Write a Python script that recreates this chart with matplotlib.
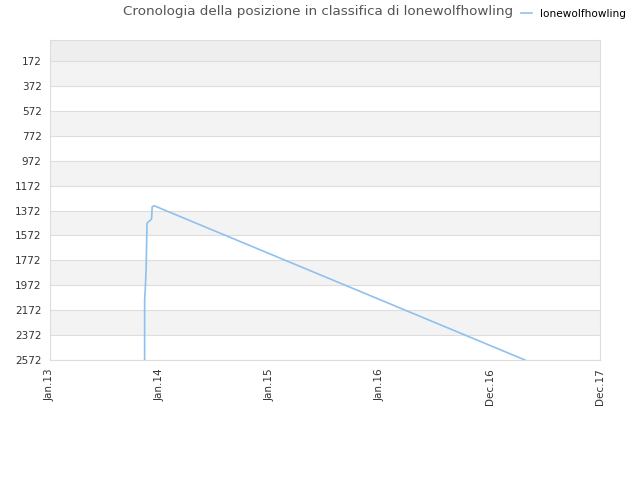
import numpy as np
import matplotlib.pyplot as plt
import matplotlib.dates as mdates
from datetime import datetime, timedelta

# --- data ---
start = datetime(2013, 1, 1)
day_offsets = [314, 314, 316, 319, 322, 337, 339, 346, 1576]
ranks       = [2572, 2091, 2011, 1834, 1473, 1441, 1342, 1334, 2572]
dates = [start + timedelta(days=d) for d in day_offsets]

y_ticks = [172, 372, 572, 772, 972, 1172, 1372, 1572, 1772, 1972, 2172, 2372, 2572]
x_tick_dates = [start + timedelta(days=365 * i) for i in range(6)]
x_tick_labels = ['Jan.13', 'Jan.14', 'Jan.15', 'Jan.16', 'Dec.16', 'Dec.17']
series_name = 'lonewolfhowling'

fig = plt.figure(figsize=(6.4, 4.8), dpi=100)
ax = fig.add_axes([50 / 640, 120 / 480, 550 / 640, 320 / 480])

y_top = 3
# background bands
ax.axhspan(y_top, y_ticks[0], color='#eeeeee', lw=0, zorder=0)
for i in range(len(y_ticks) - 1):
    col = '#f3f3f3' if i % 2 == 0 else '#ffffff'
    ax.axhspan(y_ticks[i], y_ticks[i + 1], color=col, lw=0, zorder=0)
for t in y_ticks:
    ax.axhline(t, color='#dddddd', lw=0.8, zorder=1)

ax.plot(dates, ranks, color='#8fc1ef', lw=1.2, zorder=3, label=series_name)

ax.set_ylim(2572, y_top)
ax.set_xlim(x_tick_dates[0], x_tick_dates[-1])
ax.set_yticks(y_ticks)
ax.set_yticklabels([str(t) for t in y_ticks])
ax.set_xticks(x_tick_dates)
ax.set_xticklabels(x_tick_labels, rotation=90)
ax.tick_params(axis='both', labelsize=7.5, colors='#333333', length=0, pad=6)
for s in ax.spines.values():
    s.set_color('#dddddd')
    s.set_linewidth(0.8)

fig.text(318 / 640, 1 - 12 / 480, 'Cronologia della posizione in classifica di lonewolfhowling',
         ha='center', va='center', fontsize=9.7, color='#555555')
fig.legend(loc='center left', bbox_to_anchor=(516 / 640, 1 - 14 / 480), frameon=False,
           fontsize=7.6, handlelength=1.0, handletextpad=0.8, borderpad=0)

fig.savefig('out.png', dpi=100)
